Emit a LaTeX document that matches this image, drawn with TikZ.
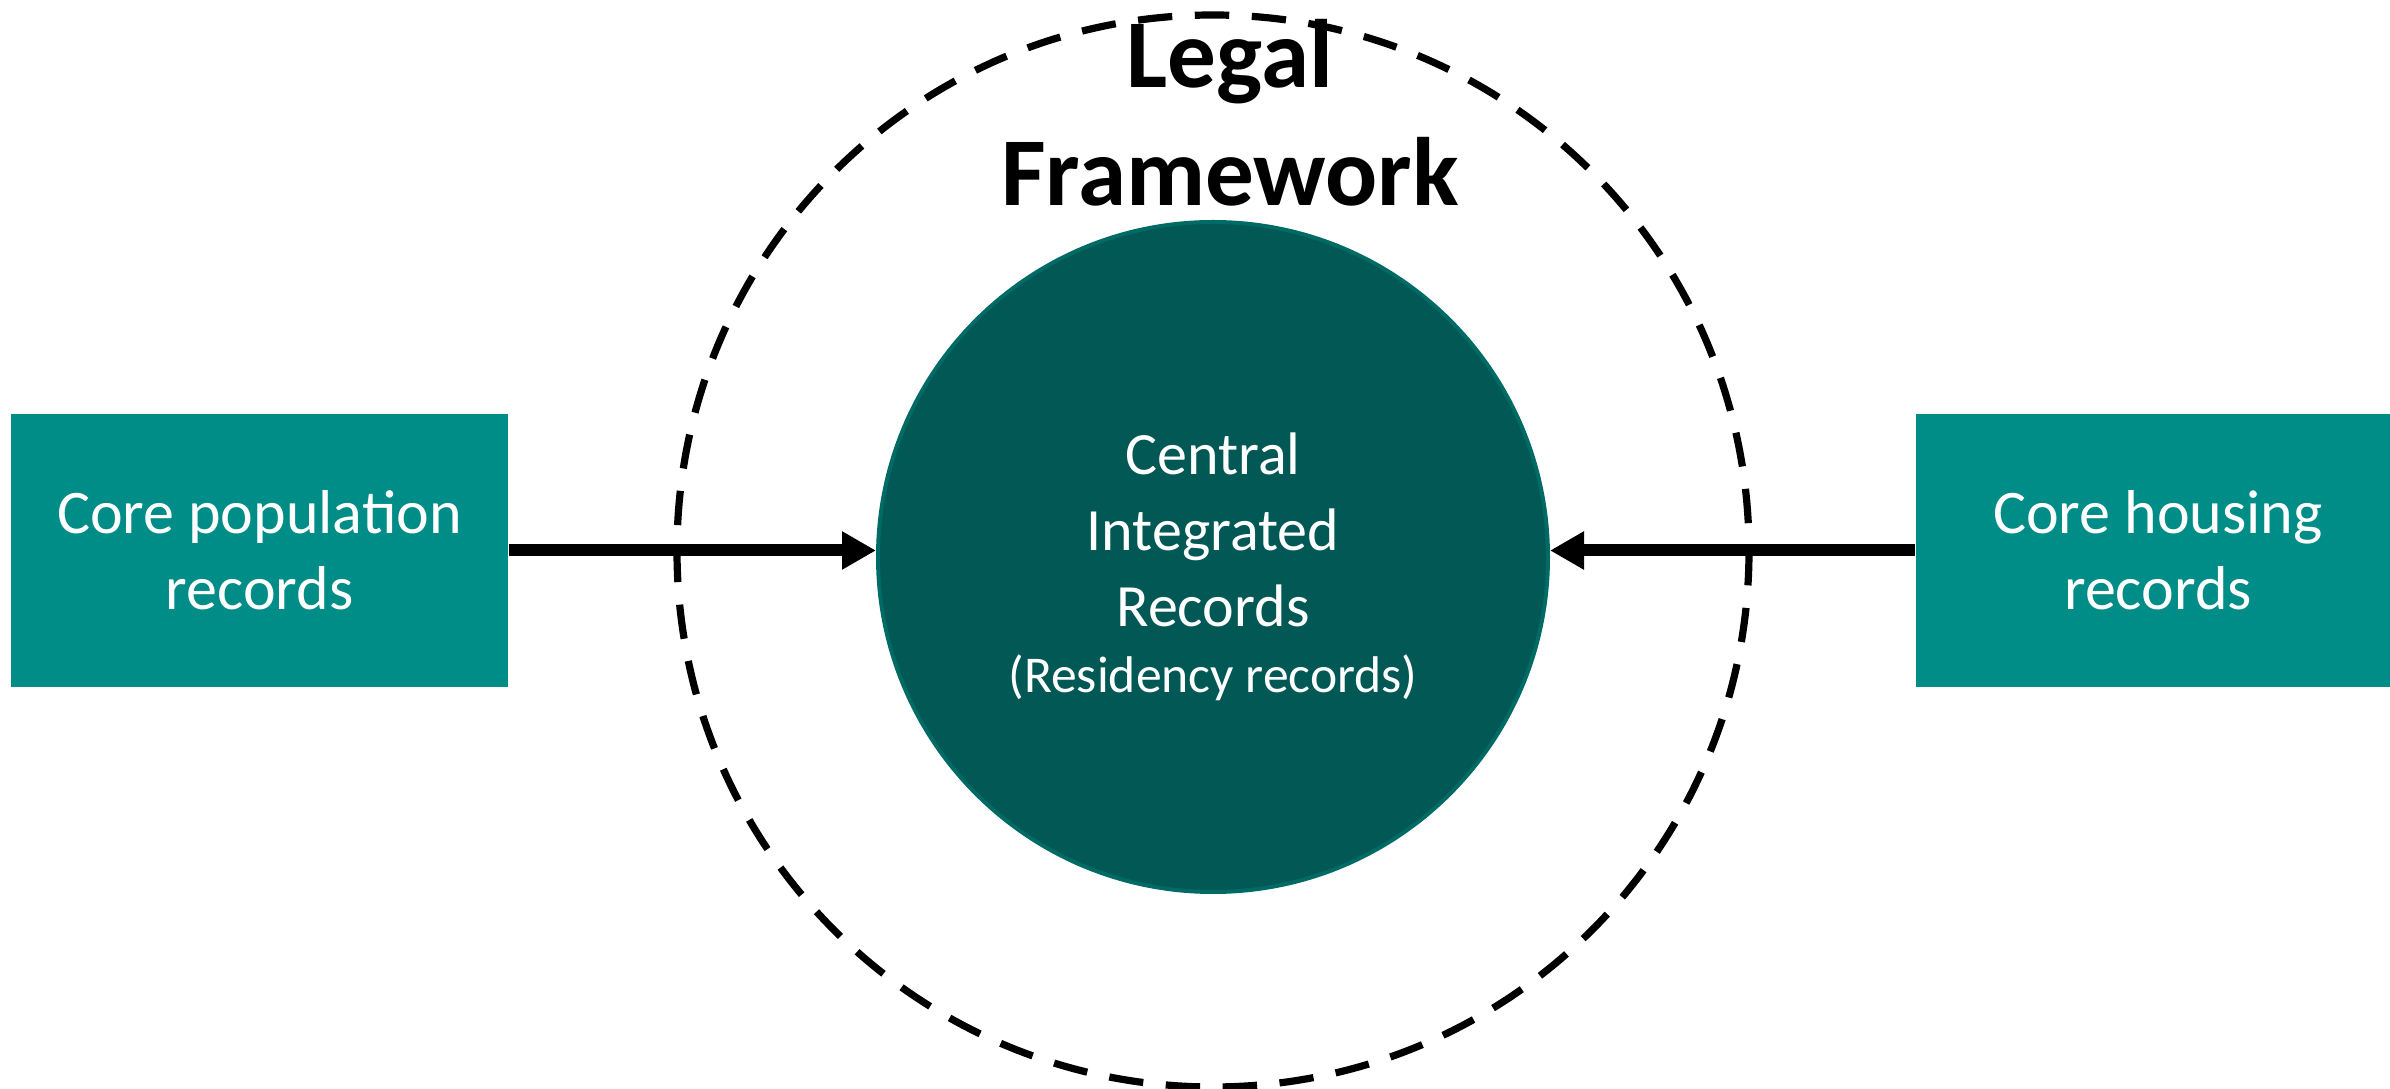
\documentclass[tikz,border=0pt]{standalone}
\usepackage{fontspec}
\setmainfont{Carlito}
\usetikzlibrary{arrows.meta}

\definecolor{recteal}{RGB}{0,140,135}
\definecolor{hubfill}{RGB}{1,88,85}
\definecolor{hubedge}{RGB}{0,106,101}

\tikzset{
  recbox/.style={fill=recteal, inner sep=0pt, minimum height=68.25pt,
    text=white, align=center, font=\fontsize{15.5}{19}\selectfont},
  hub/.style={circle, fill=hubfill, draw=hubedge, line width=1pt, inner sep=0pt,
    minimum size=167.5pt},
  hubtext/.style={text=white, align=center, font=\fontsize{15}{19}\selectfont},
  feed/.style={line width=3pt, -{Triangle[length=8.5pt,width=9pt]}},
  legaldash/.style={line width=1.8pt, dash pattern=on 8.6pt off 5.65pt},
  legaltext/.style={align=center, font=\bfseries\fontsize{24.3}{29.5}\selectfont}
}

\begin{document}
\begin{tikzpicture}[x=0.25pt,y=0.25pt,yscale=-1,xscale=1]
\useasboundingbox (0,0) rectangle (2390,1089);

%Shape: Circle
\node[hub] (cir) at (1213,557) {};
\node[hubtext] (hubtxt) at ([yshift=2.5pt]cir.center) {Central\\Integrated\\Records\\[-2.5pt]{\fontsize{12.9}{16}\selectfont (Residency records)}};

%Shape: Rectangle
\node[recbox, minimum width=124.25pt] (pop) at (259.5,550.5) {Core population\\records};
%Shape: Rectangle
\node[recbox, minimum width=121pt] (house) at (2158,550.5) {Core housing\\records};

%Straight Lines
\draw[feed] (pop.east) -- (pop.east -| cir.west);
%Straight Lines
\draw[feed] (house.west) -- (house.west -| cir.east);

%Shape: Dashed Circle
\draw[legaldash] (1213,551) circle [radius=536];

%Text Node
\node[legaltext] (legal) at (1230,113) {Legal\\Framework};

\end{tikzpicture}
\end{document}
